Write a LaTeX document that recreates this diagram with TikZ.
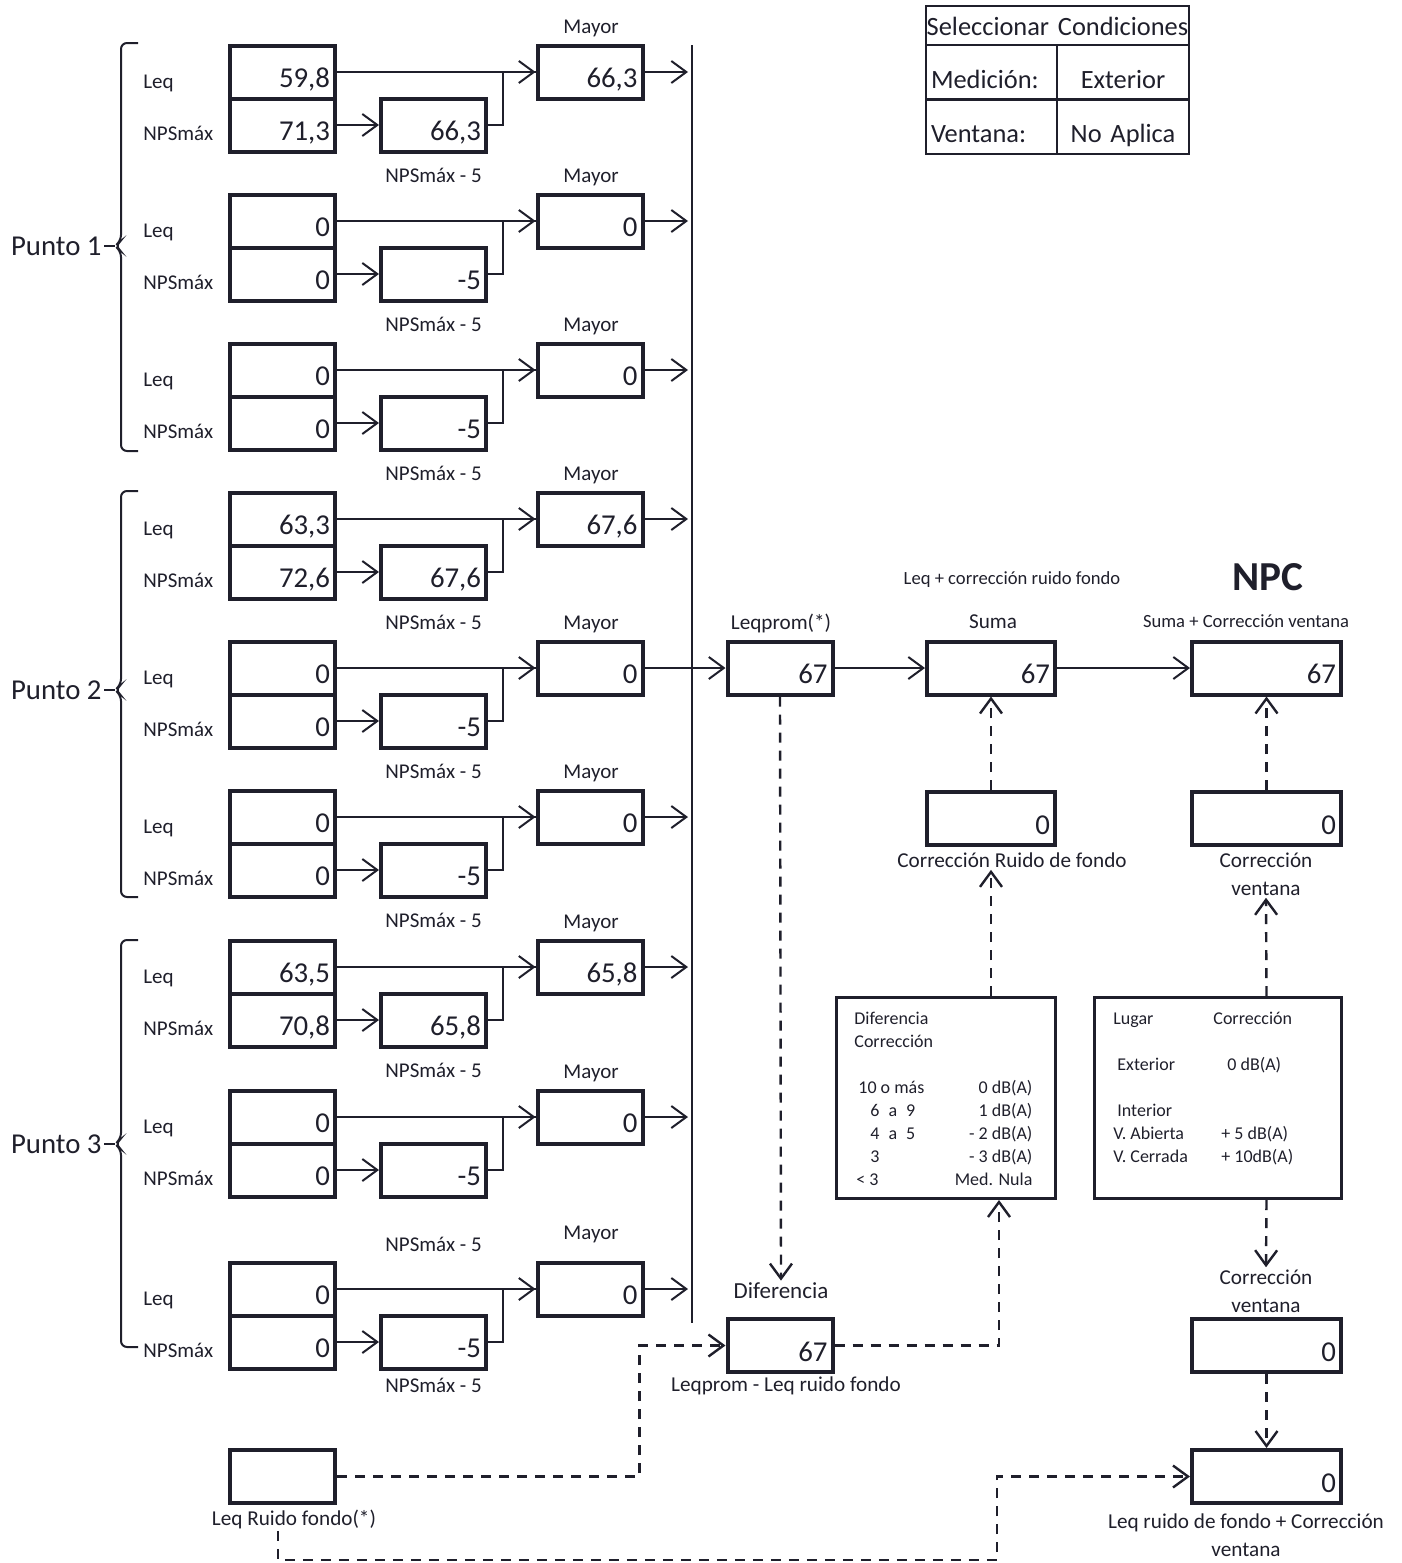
\documentclass[tikz,border=0pt]{standalone}
\usepackage{fontspec}
\setmainfont{Carlito}
\usetikzlibrary{arrows.meta,calc,positioning}
\definecolor{ink}{HTML}{1F1F2B}

\begin{document}
\begin{tikzpicture}[x=0.5pt,y=-0.5pt,color=ink,
  vbox/.style={draw,line width=2pt,inner xsep=2.5pt,inner ysep=0pt,
    text width=47.5pt,align=right,text height=21pt,text depth=5.5pt,
    font=\fontsize{14.4}{16}\selectfont},
  cell/.style={draw,line width=1pt,inner sep=0pt,text height=21.5pt,
    text depth=5.75pt,font=\fontsize{13.2}{15}\selectfont},
  tbl/.style={draw,line width=1.5pt,inner sep=0pt},
  line/.style={line width=1pt},
  flow/.style={-{Straight Barb[length=7.5pt,width=11pt]},line width=1pt},
  dflow/.style={flow,line width=1.2pt,dash pattern=on 5pt off 4pt},
  tag/.style={font=\fontsize{10.5}{12}\selectfont,inner sep=0pt},
  note/.style={font=\fontsize{10.6}{14}\selectfont,align=center,inner sep=1pt},
  small note/.style={font=\fontsize{9.3}{11}\selectfont,inner sep=1pt},
  punto/.style={font=\fontsize{14.4}{16}\selectfont,inner sep=1pt},
  table text/.style={font=\fontsize{9}{11.5}\selectfont,inner sep=0pt,anchor=north west}]

\useasboundingbox (0,0) rectangle (1402,1563);

% Every block: Leq and NPSmax readings, NPSmax - 5 and the larger of the two.
\coordinate (bus top) at (692,45);
\coordinate (bus end) at (692,1323);
\node[vbox] (leqp) at (780,668) {67};
\foreach \t/\lv/\nv/\fv/\mv/\ma/\fa [count=\i] in {
    44/59{,}8/71{,}3/66{,}3/66{,}3/-11/138,
    193/0/0/-5/0/-11/138,
    342/0/0/-5/0/-11/138,
    491/63{,}3/72{,}6/67{,}6/67{,}6/-11/138,
    640/0/0/-5/0/-11/138,
    789/0/0/-5/0/-11/138,
    939/63{,}5/70{,}8/65{,}8/65{,}8/-11/138,
    1089/0/0/-5/0/-11/162,
    1261/0/0/-5/0/-22/131} {
  \node[vbox] (leq\i) at (282.5,\t+28) {\lv};
  \node[vbox] (nps\i) at (282.5,\t+81) {\nv};
  \node[vbox] (nfv\i) at (433.5,\t+81) {\fv};
  \node[vbox] (may\i) at (590,\t+28) {\mv};
  \node[tag,anchor=base west] (lq\i) at (143,\t+44) {Leq};
  \node[tag,anchor=base west] (np\i) at (143,\t+96) {NPSmáx};
  \node[tag,anchor=base] (ml\i) at (591,\t+\ma) {Mayor};
  \node[tag,anchor=base] (fl\i) at (433.5,\t+\fa) {NPSmáx - 5};
  \draw[flow] (leq\i.east) -- (may\i.west);
  \draw[flow] (nps\i.east) -- (nfv\i.west);
  \draw[line] (nfv\i.east) -- ++(15,0) |- (may\i.west);
  \ifnum\i=5
    \draw[flow] (may\i.east) -- (leqp.west);
  \else
    \draw[flow,shorten >=2pt] (may\i.east) -- (may\i.east -| bus top);
  \fi
}
\draw[line] (bus top) -- (bus end);

% Braces grouping three blocks per measuring point.
\foreach \a/\m/\b/\k in {43/246/451/1,491/690/897/2,940/1144/1347/3} {
  \draw[line,rounded corners=3pt] (138,\a) -- (121,\a) -- (121,\m-5)
    -- (115,\m) -- (121,\m+5) -- (121,\b) -- (138,\b);
  \draw[line] (104,\m) -- (115,\m);
  \node[punto,anchor=east] (pt\k) at (104,\m) {Punto \k};
}

% Selected conditions.
\node[cell,text width=131.5pt,align=center,text height=14.5pt,text depth=5pt]
  (sel) at (1057.5,25.5) {Seleccionar Condiciones};
\node[cell,text width=60.5pt,inner xsep=2.5pt,align=left] (med) at (991.5,72.25) {Medición:};
\node[cell,text width=66pt,align=center] (ext) at (1123,72.25) {Exterior};
\node[cell,text width=60.5pt,inner xsep=2.5pt,align=left] (ven) at (991.5,126.5) {Ventana:};
\node[cell,text width=66pt,align=center] (noa) at (1123,126.5) {No Aplica};

% Result chain.
\node[vbox,text width=59pt] (suma) at (991,668) {67};
\node[vbox,text width=69.5pt] (npc) at (1266.5,668) {67};
\node[vbox,text width=59pt] (crf) at (991,818.5) {0};
\node[vbox,text width=69.5pt] (cv) at (1266.5,818.5) {0};
\node[vbox] (dif) at (780,1345.5) {67};
\node[vbox,text width=69.5pt] (cvb) at (1266.5,1345.5) {0};
\node[vbox] (lrf) at (282.5,1476.5) {};
\node[vbox,text width=69.5pt] (lcv) at (1266.5,1476.5) {0};

\node[note] (leqp lbl) at (781,623) {Leqprom(*)};
\node[small note] (suma note) at (1012,580) {Leq + corrección ruido fondo};
\node[note] (suma lbl) at (993,622) {Suma};
\node[font=\fontsize{20.6}{24}\selectfont\bfseries,inner sep=1pt] (npc title) at (1268,577) {NPC};
\node[small note] (npc lbl) at (1246,621) {Suma + Corrección ventana};
\node[note] (crf lbl) at (1012,860) {Corrección Ruido de fondo};
\node[note] (cv lbl) at (1266,874) {Corrección\\ventana};
\node[note,font=\fontsize{11.5}{14}\selectfont] (dif lbl) at (781,1291) {Diferencia};
\node[note] (dif sub) at (786,1386) {Leqprom - Leq ruido fondo};
\node[note] (cvb lbl) at (1266,1291) {Corrección\\ventana};
\node[note] (lcv lbl) at (1246,1535) {Leq ruido de fondo + Corrección\\ventana};
\node[note] (lrf lbl) at (294,1519) {Leq Ruido fondo(*)};

% Correction tables.
\node[tbl,minimum width=109.5pt,minimum height=100.5pt] (dtab) at (946,1098) {};
\node[table text] (dtab txt) at (854,1008) {%
  \begin{tabular*}{89pt}{@{}l@{\extracolsep{\fill}}r@{}}
  Diferencia & \\
  Corrección & \\
   & \\
  \hspace{2pt}10 o más & 0 dB(A)\\
  \hspace{8pt}6\enspace a\enspace 9 & 1 dB(A)\\
  \hspace{8pt}4\enspace a\enspace 5 & - 2 dB(A)\\
  \hspace{8pt}3 & - 3 dB(A)\\
  \hspace{1pt}< 3 & Med. Nula
  \end{tabular*}};
\node[tbl,minimum width=123.5pt,minimum height=100.5pt] (vtab) at (1218,1098) {};
\node[table text] (vtab txt) at (1113,1008) {%
  \begin{tabular}{@{}p{50pt}@{}l@{}}
  Lugar & Corrección\\
   & \\
  \hspace{2pt}Exterior & \hspace{7pt}0 dB(A)\\
   & \\
  \hspace{2pt}Interior & \\
  V. Abierta & \hspace{4pt}+ 5 dB(A)\\
  V. Cerrada & \hspace{4pt}+ 10dB(A)
  \end{tabular}};

\draw[flow] (leqp.east) -- (suma.west);
\draw[flow] (suma.east) -- (npc.west);
\draw[dflow] (crf.north) -- (suma.south);
\draw[dflow] (cv.north) -- (npc.south);
\draw[dflow] (crf.south |- dtab.north) -- (crf.south |- crf lbl.south);
\draw[dflow] (cv.south |- vtab.north) -- (cv lbl.south);
\draw[dflow] (cvb.north |- vtab.south) -- (cvb lbl.north);
\draw[dflow] (cvb.south) -- (lcv.north);
\draw[dflow] (leqp.south) -- (dif lbl.north);
\draw[dflow] (lrf.east) -| ([xshift=-43pt]dif.west) -- (dif.west);
\draw[dflow] (dif.east) -| ([xshift=26.5pt]dtab.south);
\coordinate (bend) at (997,1560);
\draw[dflow] ([xshift=-8pt]lrf lbl.south) |- (bend) |- (lcv.west);
\end{tikzpicture}
\end{document}
